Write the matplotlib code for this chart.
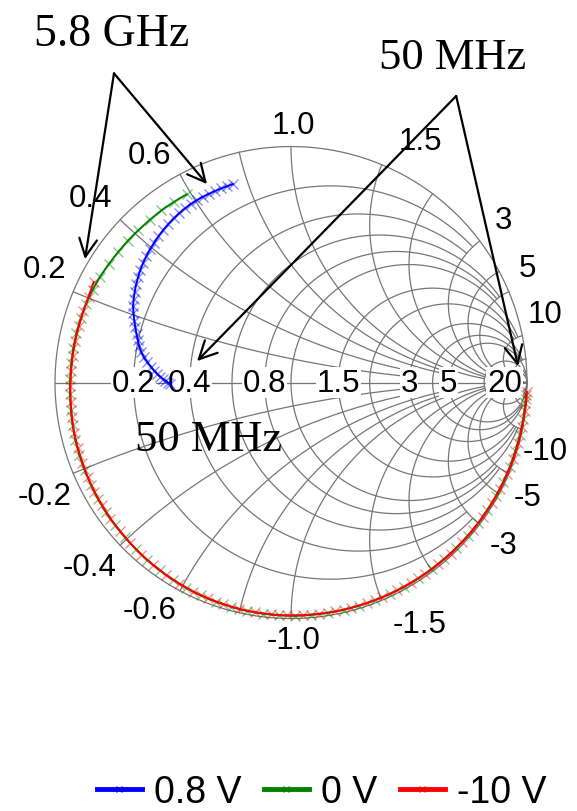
import numpy as np
import matplotlib
matplotlib.use('Agg')
import matplotlib.pyplot as plt
from matplotlib.lines import Line2D

# grid values of the smith chart and how far each line is drawn
grid_vals = [0.2, 0.4, 0.6, 0.8, 1.0, 1.5, 2, 3, 4, 5, 10, 20]
grid_lims = [3, 3, 5, 5, 10, 10, 10, 20, 20, np.inf, np.inf, np.inf]
real_labels = ['0.2', '0.4', '0.8', '1.5', '3', '5', '20']
imag_labels = ['0.2', '0.4', '0.6', '1.0', '1.5', '3', '5', '10']

# reflection coefficient: angle (deg) and magnitude
blue_ang = [180.7, 180.0, 179.2, 178.4, 177.4, 176.3, 175.0, 173.6, 172.0, 170.3,
            168.5, 166.6, 164.6, 162.6, 160.5, 158.4, 156.3, 154.2, 152.0, 149.8,
            147.6, 145.4, 143.2, 141.0, 138.8, 136.6, 134.4, 132.2, 130.0, 127.8,
            125.6, 123.4, 121.3, 119.2, 117.2, 115.3, 113.4, 111.6, 109.8, 108.0, 106.3]
blue_mag = [0.513, 0.522, 0.532, 0.542, 0.555, 0.568, 0.582, 0.597, 0.615, 0.632,
            0.647, 0.661, 0.673, 0.686, 0.700, 0.714, 0.729, 0.743, 0.755, 0.766,
            0.777, 0.787, 0.797, 0.806, 0.814, 0.822, 0.829, 0.836, 0.843, 0.849,
            0.855, 0.860, 0.864, 0.868, 0.870, 0.871, 0.872, 0.873, 0.874, 0.875, 0.876]

green_ang = [119, 123, 127, 131, 135, 139, 143, 147, 151, 155, 159, 163, 167, 171, 175,
             179, 183, 187, 191, 195, 199, 203, 207, 211, 215, 219, 223, 227, 231, 235,
             239, 243, 247, 251, 255, 259, 263, 267, 271, 275, 279, 283, 287, 291, 295,
             299, 303, 307, 311, 315, 319, 323, 327, 331, 335, 339, 343, 347, 351, 355, 357]
green_mag = [0.912, 0.912, 0.913, 0.913, 0.914, 0.916, 0.918, 0.921, 0.925, 0.928, 0.930,
             0.932, 0.933, 0.934, 0.935, 0.936, 0.938, 0.940, 0.943, 0.946, 0.948, 0.950,
             0.952, 0.955, 0.958, 0.960, 0.962, 0.965, 0.968, 0.971, 0.974, 0.977, 0.980,
             0.982, 0.984, 0.986, 0.987, 0.988, 0.989, 0.989, 0.989, 0.989, 0.989, 0.989,
             0.989, 0.990, 0.990, 0.990, 0.990, 0.991, 0.991, 0.992, 0.992, 0.993, 0.993,
             0.994, 0.994, 0.995, 0.996, 0.997, 0.997]

red_ang = [153, 157, 161, 165, 169, 173, 177, 181, 185, 189, 193, 197, 201, 205, 209,
           213, 217, 221, 225, 229, 233, 237, 241, 245, 249, 253, 257, 261, 265, 269,
           273, 277, 281, 285, 289, 293, 297, 301, 305, 309, 313, 317, 321, 325, 329,
           333, 337, 341, 345, 349, 353, 356, 357.7]
red_mag = [0.938, 0.932, 0.930, 0.930, 0.931, 0.932, 0.933, 0.935, 0.937, 0.940, 0.943,
           0.945, 0.947, 0.950, 0.953, 0.955, 0.958, 0.960, 0.963, 0.966, 0.969, 0.972,
           0.975, 0.978, 0.980, 0.982, 0.984, 0.985, 0.986, 0.987, 0.987, 0.987, 0.988,
           0.988, 0.988, 0.989, 0.989, 0.989, 0.990, 0.990, 0.991, 0.991, 0.992, 0.992,
           0.993, 0.994, 0.995, 0.996, 0.997, 0.998, 0.999, 1.000, 1.000]

series = [('0.8 V', blue_ang, blue_mag, '#0000ff'),
          ('0 V', green_ang, green_mag, '#008000'),
          ('-10 V', red_ang, red_mag, '#ff0000')]

# where the rim labels sit (radius, angle in deg), upper half; mirrored below
rim_pos = [(1.150, 155.2), (1.157, 137.4), (1.135, 121.8), (1.092, 89.5),
           (1.160, 61.9), (1.134, 37.4), (1.113, 25.9), (1.115, 15.1)]


def gamma(z):
    return (z - 1) / (z + 1)


def polar_pts(ang, mag):
    a = np.deg2rad(np.array(ang))
    m = np.array(mag)
    return m * np.cos(a), m * np.sin(a)


fig = plt.figure(figsize=(5.77, 8.12), dpi=100)
ax = fig.add_axes([0.01352, 0.1789, 0.98163, 0.69754])
ax.set_xlim(-1.2, 1.2)
ax.set_ylim(-1.2, 1.2)
ax.set_aspect('equal')
ax.axis('off')

gc = '#767676'
glw = 0.9

# outer circle and real axis
t = np.linspace(0, 2 * np.pi, 400)
ax.plot(np.cos(t), np.sin(t), color=gc, lw=glw, zorder=1)
ax.plot([-1, 1], [0, 0], color=gc, lw=glw, zorder=1)

# constant resistance circles and constant reactance arcs
for v, lim in zip(grid_vals, grid_lims):
    phi = np.linspace(-np.arctan(lim), np.arctan(lim), 600)
    g = gamma(v + 1j * np.tan(phi * 0.9999))
    ax.plot(g.real, g.imag, color=gc, lw=glw, zorder=1)
    phi = np.linspace(0, np.arctan(lim) * 0.9999, 600)
    for s in (1, -1):
        g = gamma(np.tan(phi) + 1j * s * v)
        ax.plot(g.real, g.imag, color=gc, lw=glw, zorder=1)

lab_font = ['Liberation Sans', 'DejaVu Sans']
for lab in real_labels:
    g = gamma(float(lab))
    ax.text(g.real, 0, lab, ha='center', va='center', fontsize=22.5, family=lab_font,
            zorder=2, bbox=dict(facecolor='white', edgecolor='none', pad=0.5))

for lab, (rl, deg) in zip(imag_labels, rim_pos):
    for s, txt in ((1, lab), (-1, '-' + lab)):
        th = np.deg2rad(s * deg)
        ax.text(rl * np.cos(th), rl * np.sin(th), txt, ha='center', va='center',
                fontsize=22.5, family=lab_font)

# measured curves
for name, ang, mag, col in series:
    x, y = polar_pts(ang, mag)
    ax.plot(x, y, color=col, lw=1.4, zorder=4)
    ax.plot(x, y, ls='none', marker='x', ms=7, mew=1.0,
            mec=matplotlib.colors.to_rgba(col, 0.45), zorder=3)

# annotations
serif = ['Liberation Serif', 'DejaVu Serif']
arrow = dict(arrowstyle='->', lw=1.6, color='k', mutation_scale=32, shrinkA=0, shrinkB=0)
ax.text(-0.761, 1.430, '5.8 GHz', ha='center', va='baseline', fontsize=33, family=serif)
for tip in [(-0.873, 0.523), (-0.356, 0.841)]:
    ax.annotate('', xy=tip, xytext=(-0.75, 1.31), arrowprops=arrow, annotation_clip=False)

ax.text(0.683, 1.333, '50 MHz', ha='center', va='baseline', fontsize=32, family=serif)
for tip in [(-0.398, 0.091), (0.962, 0.070)]:
    ax.annotate('', xy=tip, xytext=(0.700, 1.214), arrowprops=arrow, annotation_clip=False)

ax.text(-0.350, -0.287, '50 MHz', ha='center', va='baseline', fontsize=32, family=serif,
        zorder=5)

handles = [Line2D([], [], color=c, lw=3.5, marker='x', ms=4, mew=0.8) for _, _, _, c in series]
fig.legend(handles, [s[0] for s in series], loc='center', bbox_to_anchor=(0.557, 0.0234),
           ncol=3, frameon=False, handlelength=1.2, handletextpad=0.32,
           columnspacing=0.6, prop={'family': lab_font, 'size': 27})

fig.savefig('out.png', dpi=100)
